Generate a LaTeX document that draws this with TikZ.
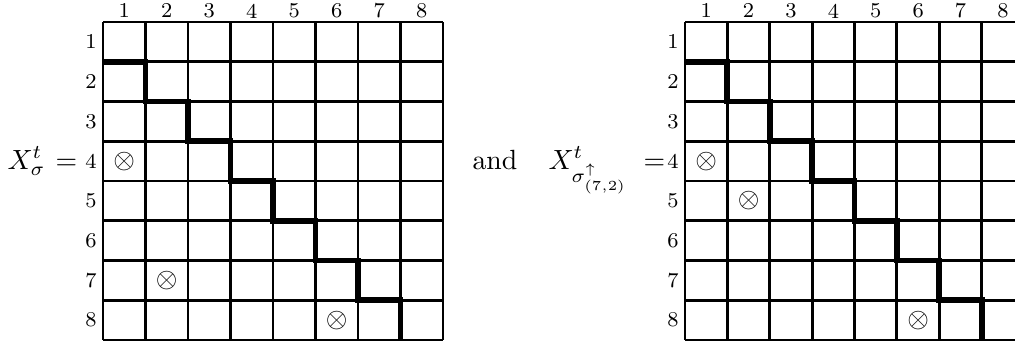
\documentclass[tikz,border=0pt]{standalone}
\begin{document}
\begin{tikzpicture}[x=0.36pt,y=-0.36pt,
  gridline/.style={line width=1.05pt},
  stair/.style={line width=2.1pt},
  lab/.style={font=\fontsize{7.6}{9}\selectfont, inner sep=0pt},
  otm/.style={inner sep=0pt},
  txt/.style={anchor=base west, inner sep=0pt}]
\useasboundingbox (0,0) rectangle (1015,345);
\clip (0,0) rectangle (1015,345);

% left grid
\begin{scope}[shift={(103,22)}, x=15.3pt, y=-14.31pt]
  \foreach \k in {0,...,8} {
    \draw[gridline] (\k,0) -- (\k,8);
    \draw[gridline] (0,\k) -- (8,\k);
  }
  \draw[stair] (0,1) -| (1,2) -| (2,3) -| (3,4) -| (4,5) -| (5,6) -| (6,7) -| (7,8);
  \foreach \i in {1,...,8} {
    \node[lab] (Lc\i) at (\i-0.5,-0.28) {\i};
    \node[lab, anchor=east] (Lr\i) at (-0.14,\i-0.5) {\i};
  }
  \node[otm] (La) at (0.5,3.5) {$\otimes$};
  \node[otm] (Lb) at (1.5,6.5) {$\otimes$};
  \node[otm] (Lc) at (5.5,7.5) {$\otimes$};
\end{scope}

% right grid
\begin{scope}[shift={(685,22)}, x=15.26pt, y=-14.31pt]
  \foreach \k in {0,...,8} {
    \draw[gridline] (\k,0) -- (\k,8);
    \draw[gridline] (0,\k) -- (8,\k);
  }
  \draw[stair] (0,1) -| (1,2) -| (2,3) -| (3,4) -| (4,5) -| (5,6) -| (6,7) -| (7,8);
  \foreach \i in {1,...,8} {
    \node[lab] (Rc\i) at (\i-0.5,-0.28) {\i};
    \node[lab, anchor=east] (Rr\i) at (-0.14,\i-0.5) {\i};
  }
  \node[otm] (Ra) at (0.5,3.5) {$\otimes$};
  \node[otm] (Rb) at (1.5,4.5) {$\otimes$};
  \node[otm] (Rc) at (5.5,7.5) {$\otimes$};
\end{scope}

\node[txt] (lhs) at (7,169) {$X^t_\sigma$};
\node[txt] (eqL) at (55,169) {$=$};
\node[txt] (and) at (472,169) {and};
\node[txt] (rhs) at (548,169) {$X^t_{\sigma^{\uparrow}_{(7,2)}}$};
\node[txt] (eqR) at (643,169) {$=$};
\end{tikzpicture}
\end{document}
